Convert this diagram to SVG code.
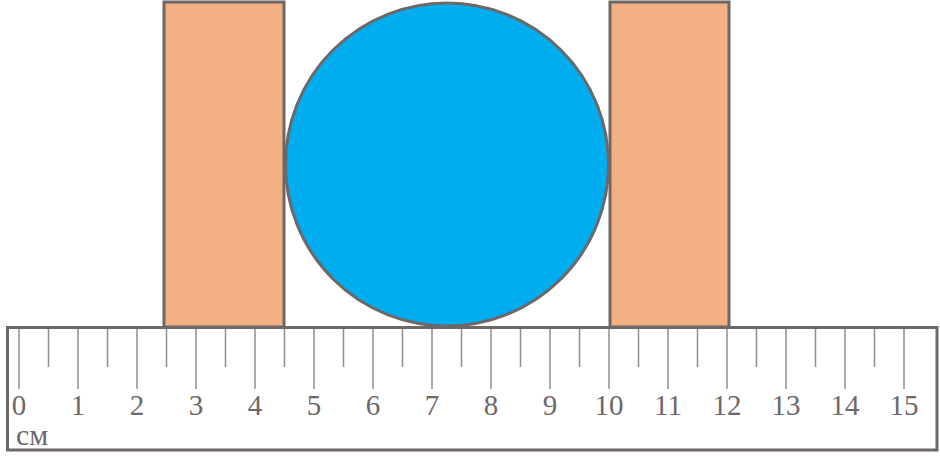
<svg xmlns="http://www.w3.org/2000/svg" width="940" height="457" viewBox="0 0 940 457">
<style>
.blk{fill:#f3b183;stroke:#6e6767;stroke-width:3}
.ball{fill:#00aeef;stroke:#6e6767;stroke-width:3}
.ruler{fill:#fff;stroke:#6e6767;stroke-width:3}
.tick{stroke:#8e8e8e;stroke-width:1.5}
.num{font-family:"Liberation Serif","DejaVu Serif",serif;font-size:29px;fill:#6e6767;text-anchor:middle}
.unit{font-family:"Liberation Serif","DejaVu Serif",serif;font-size:30px;fill:#6e6767}
</style>
<g id="block-left"><rect class="blk" x="164" y="2" width="120" height="325"/></g>
<g id="block-right"><rect class="blk" x="610" y="2" width="119" height="325"/></g>
<g id="ball"><circle class="ball" cx="447" cy="164.5" r="161.5"/></g>
<g id="ruler">
<rect class="ruler" x="7.5" y="327.5" width="929.5" height="122.5"/>
<g id="ticks">
<path class="tick" d="M19 329V389M48.5 329V367M78 329V389M107.5 329V367M137 329V389M166.5 329V367M196 329V389M225.5 329V367M255 329V389M284.5 329V367M314 329V389M343.5 329V367M373 329V389M402.5 329V367M432 329V389M461.5 329V367M491 329V389M520.5 329V367M550 329V389M579.5 329V367M609 329V389M638.5 329V367M668 329V389M697.5 329V367M727 329V389M756.5 329V367M786 329V389M815.5 329V367M845 329V389M874.5 329V367M904 329V389"/>
</g>
<text class="num" x="19" y="415">0</text>
<text class="num" x="78" y="415">1</text>
<text class="num" x="137" y="415">2</text>
<text class="num" x="196" y="415">3</text>
<text class="num" x="255" y="415">4</text>
<text class="num" x="314" y="415">5</text>
<text class="num" x="373" y="415">6</text>
<text class="num" x="432" y="415">7</text>
<text class="num" x="491" y="415">8</text>
<text class="num" x="550" y="415">9</text>
<text class="num" x="609" y="415">10</text>
<text class="num" x="668" y="415">11</text>
<text class="num" x="727" y="415">12</text>
<text class="num" x="786" y="415">13</text>
<text class="num" x="845" y="415">14</text>
<text class="num" x="904" y="415">15</text>
<text class="unit" x="16" y="445">см</text>
</g>
</svg>
